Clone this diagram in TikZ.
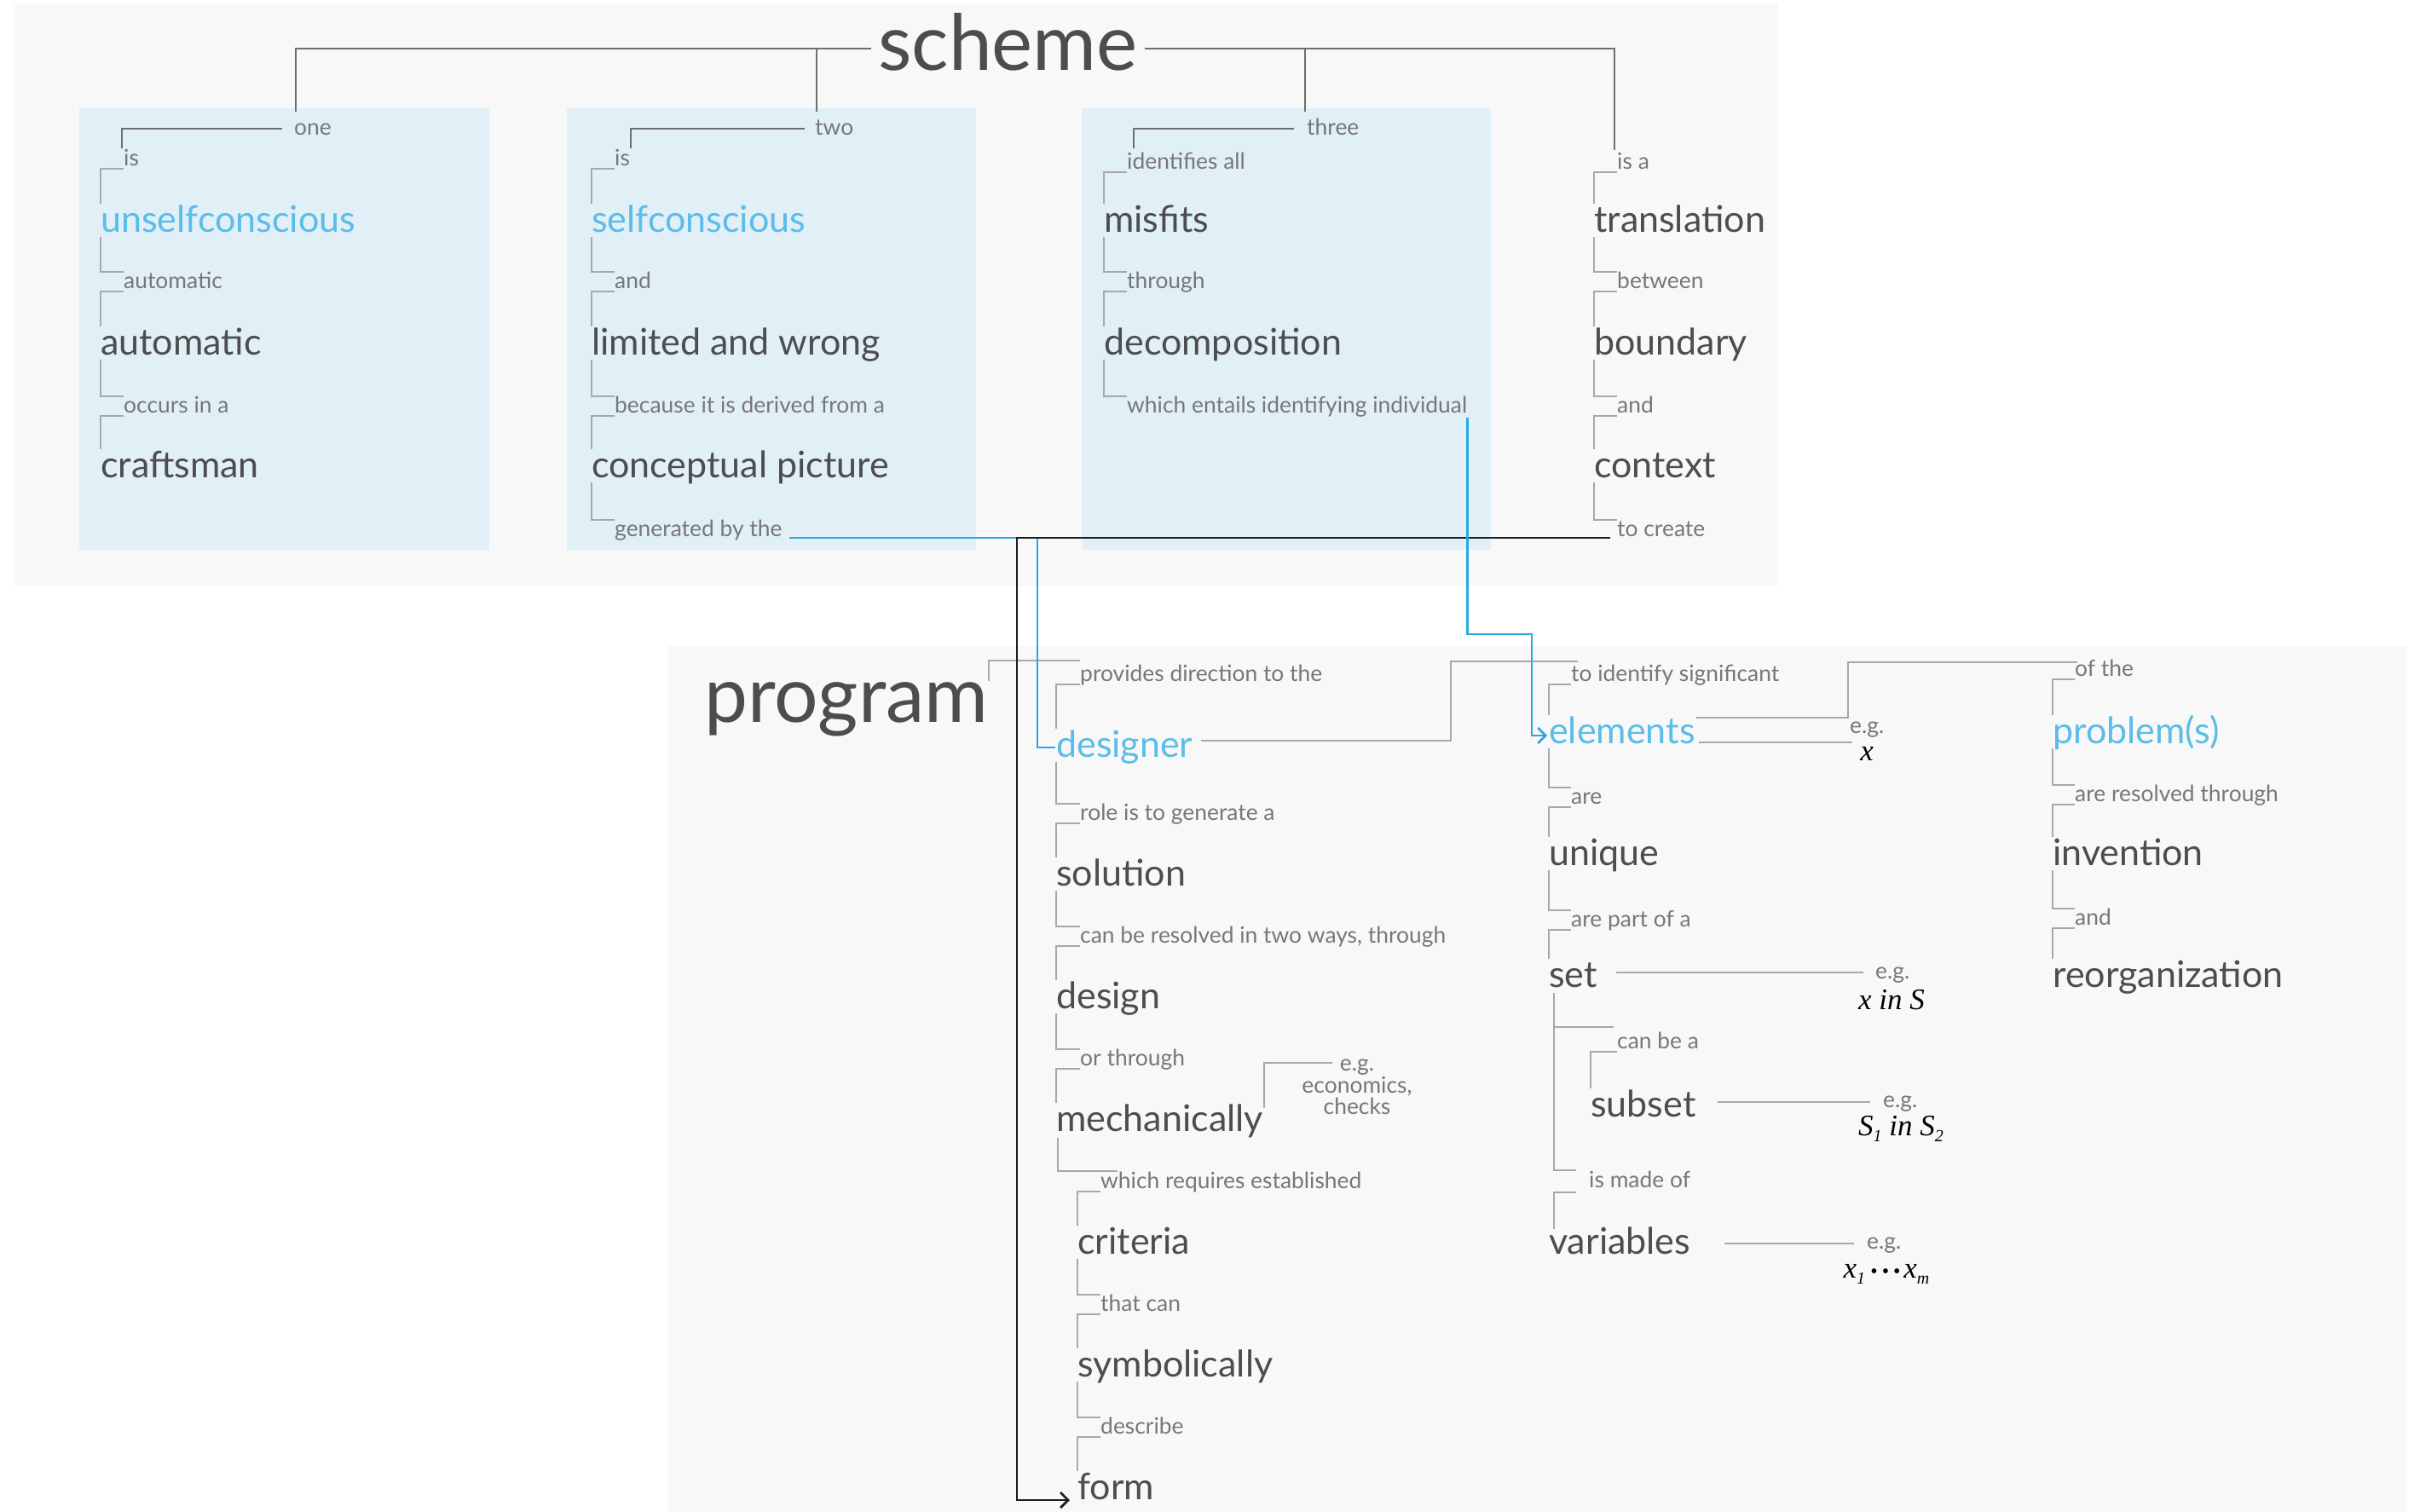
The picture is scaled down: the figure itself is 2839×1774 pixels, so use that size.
\documentclass[tikz,border=0pt]{standalone}
\usepackage{fontspec}
\setmainfont{Lato}
\newfontfamily\exserif{Liberation Serif}
\usetikzlibrary{arrows.meta}

\definecolor{pagebg}{HTML}{F8F8F8}
\definecolor{boxblue}{HTML}{E1EFF7}
\definecolor{wordgray}{HTML}{4D4D4F}
\definecolor{labelgray}{HTML}{777777}
\definecolor{keyblue}{HTML}{5BBDE8}
\definecolor{lineblue}{HTML}{2AA9E0}
\definecolor{stemgray}{HTML}{A8A8A8}
\definecolor{treegray}{HTML}{6E6E6E}
\definecolor{inkblack}{HTML}{1E1E1E}

\tikzset{
  word/.style={font=\fontsize{43}{43}\selectfont, text=wordgray, anchor=base west, inner sep=0pt},
  key/.style={word, text=keyblue},
  lbl/.style={font=\fontsize{26.4}{26.4}\selectfont, text=labelgray, anchor=base west, inner sep=0pt},
  title/.style={font=\fontsize{91}{91}\selectfont, text=wordgray, anchor=base west, inner sep=0pt},
  egnote/.style={lbl, anchor=base},
  example/.style={font=\exserif\itshape\fontsize{35}{35}\selectfont, text=black, inner sep=0pt, anchor=center},
  stem/.style={draw=stemgray, line width=1.6pt},
  tree/.style={draw=treegray, line width=2.4pt},
  egline/.style={draw=stemgray, line width=2.2pt},
  blueflow/.style={draw=lineblue, line width=2.6pt},
  blackflow/.style={draw=inkblack, line width=2.8pt},
  tip/.style={-{Straight Barb[length=9pt,width=18pt]}},
}

% bracket from a small label down to the word below it
\newcommand\stemin[2]{\draw[stem] ([yshift=-4pt]#1.base west) -| ([yshift=33pt]#2.base west);}
% bracket from a word down to the next small label
\newcommand\stemout[2]{\draw[stem] ([yshift=-6pt]#1.base west) |- ([yshift=19pt]#2.base west);}
\newcommand\low[1]{\raisebox{-7pt}{\fontsize{20}{20}\selectfont #1}}
\newcommand\dotrun{{\fontsize{24}{24}\selectfont\textbullet\hspace{5pt}\textbullet\hspace{5pt}\textbullet}}

\begin{document}
\begin{tikzpicture}[x=1pt, y=-1pt]
\useasboundingbox (0,0) rectangle (2839,1774);

% panels
\fill[pagebg] (17,5) rectangle (2086,688);
\fill[boxblue] (93,127) rectangle (574,645);
\fill[boxblue] (665,127) rectangle (1145,645);
\fill[boxblue] (1269,127) rectangle (1749,645);
\fill[pagebg] (783,758) rectangle (2823,1774);

% ---------------- scheme ----------------
\node[title] (scheme) at (1030,83) {scheme};
\node[lbl] (one) at (345,158) {one};
\node[lbl] (two) at (956,158) {two};
\node[lbl] (three) at (1533,158) {three};

% column one
\node[lbl] (c1is) at (145,194) {is};
\node[key] (c1w1) at (118,272) {unselfconscious};
\node[lbl] (c1l1) at (145,338) {automatic};
\node[word] (c1w2) at (118,416) {automatic};
\node[lbl] (c1l2) at (145,484) {occurs in a};
\node[word] (c1w3) at (118,560) {craftsman};

% column two
\node[lbl] (c2is) at (721,194) {is};
\node[key] (c2w1) at (694,272) {selfconscious};
\node[lbl] (c2l1) at (721,338) {and};
\node[word] (c2w2) at (694,416) {limited and wrong};
\node[lbl] (c2l2) at (721,484) {because it is derived from a};
\node[word] (c2w3) at (694,560) {conceptual picture};
\node[lbl] (c2l3) at (721,629) {generated by the};

% column three
\node[lbl] (c3is) at (1322,198) {identifies all};
\node[word] (c3w1) at (1295,272) {misfits};
\node[lbl] (c3l1) at (1322,338) {through};
\node[word] (c3w2) at (1295,416) {decomposition};
\node[lbl] (c3l2) at (1322,484) {which entails identifying individual};

% column four
\node[lbl] (c4is) at (1897,198) {is a};
\node[word] (c4w1) at (1870,272) {translation};
\node[lbl] (c4l1) at (1897,338) {between};
\node[word] (c4w2) at (1870,416) {boundary};
\node[lbl] (c4l2) at (1897,484) {and};
\node[word] (c4w3) at (1870,560) {context};
\node[lbl] (c4l3) at (1897,629) {to create};

% scheme tree
\draw[tree] ([xshift=-8pt,yshift=26pt]scheme.base west) -| ([xshift=2pt,yshift=27pt]one.base west);
\draw[tree] ([xshift=8pt,yshift=26pt]scheme.base east) -| ([xshift=-3pt,yshift=22pt]c4is.base west);
\draw[tree] ([xshift=2pt,yshift=27pt]two.base west) -- ++(0,-74);
\draw[tree] ([xshift=-2pt,yshift=27pt]three.base west) -- ++(0,-74);
\draw[tree] ([xshift=-14pt,yshift=7pt]one.base west) -| ([xshift=-2pt,yshift=20pt]c1is.base west);
\draw[tree] ([xshift=-12pt,yshift=7pt]two.base west) -| ([xshift=19pt,yshift=20pt]c2is.base west);
\draw[tree] ([xshift=-15pt,yshift=7pt]three.base west) -| ([xshift=8pt,yshift=24pt]c3is.base west);

% scheme brackets
\stemin{c1is}{c1w1} \stemout{c1w1}{c1l1} \stemin{c1l1}{c1w2} \stemout{c1w2}{c1l2} \stemin{c1l2}{c1w3}
\stemin{c2is}{c2w1} \stemout{c2w1}{c2l1} \stemin{c2l1}{c2w2} \stemout{c2w2}{c2l2} \stemin{c2l2}{c2w3} \stemout{c2w3}{c2l3}
\stemin{c3is}{c3w1} \stemout{c3w1}{c3l1} \stemin{c3l1}{c3w2} \stemout{c3w2}{c3l2}
\stemin{c4is}{c4w1} \stemout{c4w1}{c4l1} \stemin{c4l1}{c4w2} \stemout{c4w2}{c4l2} \stemin{c4l2}{c4w3} \stemout{c4w3}{c4l3}

% ---------------- program ----------------
\node[title] (program) at (826,847) {program};

% designer column
\node[lbl] (provides) at (1267,799) {provides direction to the};
\node[key] (designer) at (1239,888) {designer};
\node[lbl] (role) at (1267,962) {role is to generate a};
\node[word] (solution) at (1239,1039) {solution};
\node[lbl] (twoways) at (1267,1106) {can be resolved in two ways, through};
\node[word] (design) at (1239,1183) {design};
\node[lbl] (orthrough) at (1267,1250) {or through};
\node[word] (mech) at (1239,1327) {mechanically};
\node[lbl] (requires) at (1291,1394) {which requires established};
\node[word] (criteria) at (1264,1471) {criteria};
\node[lbl] (thatcan) at (1291,1538) {that can};
\node[word] (symb) at (1264,1615) {symbolically};
\node[lbl] (describe) at (1291,1682) {describe};
\node[word] (form) at (1264,1759) {form};

\node[egnote] (egm1) at (1592,1256) {e.g.};
\node[egnote] (egm2) at (1592,1282) {economics,};
\node[egnote] (egm3) at (1592,1307) {checks};

\draw[stem] ([yshift=48pt]program.base east) |- ([yshift=24pt]provides.base west);
\stemin{provides}{designer} \stemout{designer}{role} \stemin{role}{solution}
\stemout{solution}{twoways} \stemin{twoways}{design} \stemout{design}{orthrough}
\stemin{orthrough}{mech}
\draw[stem] ([xshift=2pt,yshift=-8pt]mech.base west) |- ([xshift=20pt,yshift=20pt]requires.base west);
\stemin{requires}{criteria} \stemout{criteria}{thatcan} \stemin{thatcan}{symb}
\stemout{symb}{describe} \stemin{describe}{form}
\draw[egline] ([xshift=1pt,yshift=27pt]mech.base east) |- ([xshift=-9pt,yshift=9pt]egm1.base west);

% elements column
\node[lbl] (ident) at (1843,799) {to identify significant};
\node[key] (elements) at (1817,872) {elements};
\node[lbl] (are) at (1843,943) {are};
\node[word] (unique) at (1817,1015) {unique};
\node[lbl] (partof) at (1843,1087) {are part of a};
\node[word] (set) at (1817,1158) {set};
\node[lbl] (canbea) at (1897,1230) {can be a};
\node[word] (subset) at (1866,1310) {subset};
\node[lbl] (madeof) at (1864,1393) {is made of};
\node[word] (variables) at (1817,1471) {variables};

\draw[egline] ([xshift=9pt,yshift=19pt]designer.base east) -- ++(293,0) |- ([xshift=8pt,yshift=23pt]ident.base west);
\stemin{ident}{elements} \stemout{elements}{are} \stemin{are}{unique}
\stemout{unique}{partof} \stemin{partof}{set}
\draw[stem] ([xshift=6pt,yshift=-7pt]set.base west) |- ([xshift=-15pt,yshift=20pt]madeof.base west);
\draw[stem] ([xshift=6pt,yshift=-47pt]set.base west) -- ([xshift=-4pt,yshift=25pt]canbea.base west);
\stemin{canbea}{subset}
\draw[stem] ([xshift=-15pt,yshift=-6pt]madeof.base west) -| ([xshift=6pt,yshift=29pt]variables.base west);

% examples
\node[lbl] (eg1) at (2170,860) {e.g.};
\node[example] (ex1) at (2190,884) {x};
\node[lbl] (eg2) at (2200,1148) {e.g.};
\node[example] (ex2) at (2219,1173) {x in S};
\node[lbl] (eg3) at (2209,1299) {e.g.};
\node[example] (ex3) at (2230,1324) {S\low{1} in S\low{2}};
\node[lbl] (eg4) at (2190,1465) {e.g.};
\node[example] (ex4) at (2213,1495) {x\low{1}\hspace{6pt}\dotrun\hspace{4pt}x\low{m}};

\draw[egline] ([xshift=4pt,yshift=1pt]elements.base east) -- ([xshift=3pt,yshift=-11pt]eg1.base west);
\draw[egline] ([xshift=22pt,yshift=17pt]set.base east) -- ([xshift=-14pt,yshift=7pt]eg2.base west);
\draw[egline] ([xshift=25pt,yshift=17pt]subset.base east) -- ([xshift=-15pt,yshift=6pt]eg3.base west);
\draw[egline] ([xshift=40pt,yshift=12pt]variables.base east) -- ([xshift=-15pt,yshift=6pt]eg4.base west);

% problem column
\node[lbl] (ofthe) at (2434,793) {of the};
\node[key] (problems) at (2408,872) {problem(s)};
\node[lbl] (resolved) at (2434,940) {are resolved through};
\node[word] (invention) at (2408,1015) {invention};
\node[lbl] (andp) at (2434,1085) {and};
\node[word] (reorg) at (2408,1158) {reorganization};

\draw[egline] ([xshift=1pt,yshift=30pt]elements.base east) -- ++(178,0) |- ([xshift=3pt,yshift=16pt]ofthe.base west);
\stemin{ofthe}{problems} \stemout{problems}{resolved} \stemin{resolved}{invention}
\stemout{invention}{andp} \stemin{andp}{reorg}

% flows between the two panels
\draw[blueflow] ([xshift=8pt,yshift=-2pt]c2l3.base east) -| ([xshift=-22pt,yshift=11pt]designer.base west) -- ([xshift=-1pt,yshift=11pt]designer.base west);
\coordinate (trunk) at (1193,700);
\draw[blackflow, tip] ([xshift=-8pt,yshift=-2pt]c4l3.base west) -| (trunk) |- ([xshift=-9pt,yshift=-1pt]form.base west);
\coordinate (jog) at (1797,744);
\draw[blueflow, tip] ([yshift=-6pt]c3l2.base east) |- (jog) |- ([xshift=-2pt,yshift=9pt]elements.base west);
\end{tikzpicture}
\end{document}
